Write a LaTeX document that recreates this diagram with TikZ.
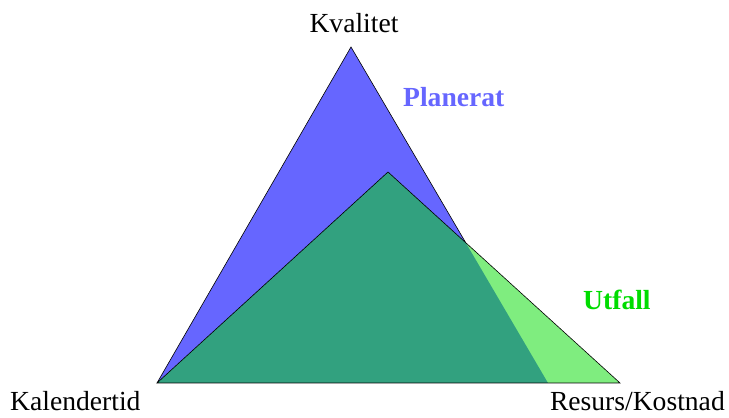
\documentclass[tikz,border=0pt]{standalone}
\usepackage{fontspec}
\setmainfont{Liberation Serif}
\definecolor{planblue}{RGB}{102,102,255}
\definecolor{utgreen}{RGB}{0,220,0}
\begin{document}
\begin{tikzpicture}[x=1pt,y=1pt,
    corner/.style={font=\fontsize{27.6}{30}\selectfont,inner sep=0pt},
    tag/.style={font=\fontsize{27.6}{30}\selectfont\bfseries,inner sep=0pt}]
			\useasboundingbox (0,0) rectangle (729,418);
			\coordinate (A) at (157,35);
			\coordinate (B) at (351,371);
			\coordinate (C) at (548,35);
			\coordinate (D) at (388,246);
			\coordinate (E) at (620,35);
			\coordinate (X) at (intersection of B--C and D--E);
			\fill[planblue] (A) -- (B) -- (C) -- cycle;
			\draw[semithick] (A) -- (B) -- (X);
			\fill[utgreen,opacity=0.5] (A) -- (D) -- (E) -- cycle;
			\draw[semithick] (A) -- (D) -- (E) -- cycle;
			\node[corner,anchor=base] (kval) at (354,385) {Kvalitet};
			\node[corner,anchor=base west] (kal) at (10,7) {Kalendertid};
			\node[corner,anchor=base east] (res) at (725,7) {Resurs/Kostnad};
			\node[tag,text=planblue,anchor=base west] (plan) at (403,311) {Planerat};
			\node[tag,text=utgreen,anchor=base west] (utf) at (583,108) {Utfall};
		\end{tikzpicture}
\end{document}
